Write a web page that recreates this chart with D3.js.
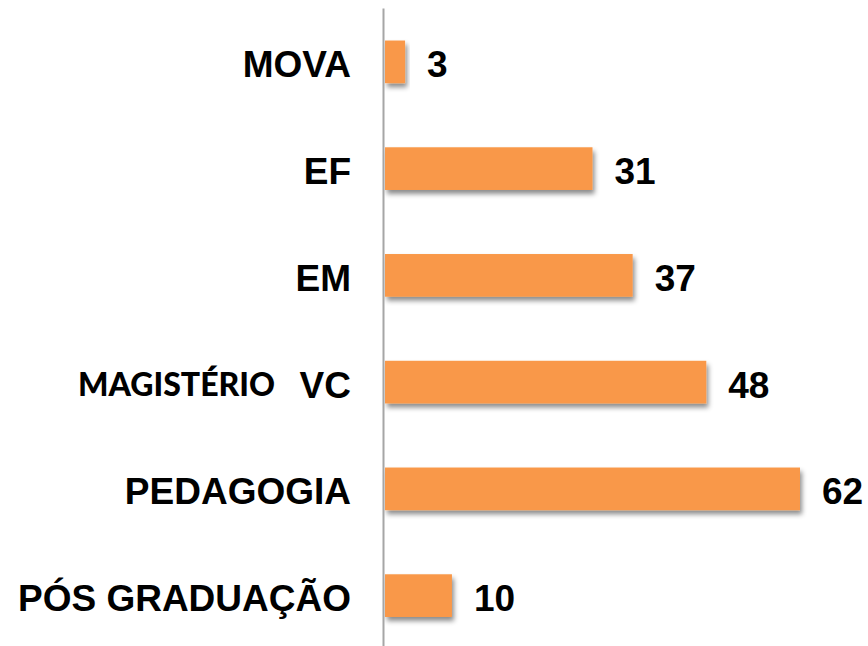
<!DOCTYPE html>
<html>
<head>
<meta charset="utf-8">
<script src="https://cdn.jsdelivr.net/npm/d3@7"></script>
<style>
  body { margin: 0; background: #fff; }
  svg { display: block; }
  .lbl { font-family: Arial, "Liberation Sans", Helvetica, sans-serif; font-weight: bold; font-size: 37px; }
</style>
</head>
<body>
<script>
// data
var categories = ["MOVA", "EF", "EM", "VC", "PEDAGOGIA", "PÓS GRADUAÇÃO"];
var values     = [3, 31, 37, 48, 62, 10];
var subLabel   = "MAGISTÉRIO";   // extra label sitting left of "VC"

var width = 868, height = 646;

var svg = d3.select("body").append("svg")
    .attr("width", width)
    .attr("height", height);

// drop shadow for the bars
var defs = svg.append("defs");
defs.append("filter")
    .attr("id", "shadow")
    .attr("x", "-10%").attr("y", "-20%")
    .attr("width", "130%").attr("height", "160%")
  .append("feDropShadow")
    .attr("dx", 2).attr("dy", 4)
    .attr("stdDeviation", 2.5)
    .attr("flood-color", "#000")
    .attr("flood-opacity", 0.45);

var y = d3.scaleBand()
    .domain(categories)
    .range([8.5, 649])
    .paddingInner(0.6)
    .paddingOuter(0.3);

var x = d3.scaleLinear()
    .domain([0, 62])
    .range([385, 800]);

// bars
svg.append("g").selectAll("rect")
    .data(categories)
  .enter().append("rect")
    .attr("x", x(0))
    .attr("y", function(d) { return y(d); })
    .attr("width", function(d, i) { return x(values[i]) - x(0); })
    .attr("height", y.bandwidth())
    .attr("fill", "#F99848")
    .attr("filter", "url(#shadow)");

// vertical axis line
svg.append("line")
    .attr("x1", x(0) - 1.5).attr("x2", x(0) - 1.5)
    .attr("y1", y.range()[0]).attr("y2", y.range()[1])
    .attr("stroke", "#a6a6a6")
    .attr("stroke-width", 2);

// category labels
svg.append("g").selectAll("text")
    .data(categories)
  .enter().append("text")
    .attr("class", "lbl")
    .attr("x", 351)
    .attr("y", function(d) { return y(d) + y.bandwidth() / 2; })
    .attr("dy", "0.42em")
    .attr("text-anchor", "end")
    .attr("fill", "#000")
    .text(function(d) { return d; });

// MAGISTÉRIO (different font, as in the original)
svg.append("text")
    .attr("x", 78)
    .attr("y", y("VC") + y.bandwidth() / 2)
    .attr("dy", "0.42em")
    .attr("textLength", 197)
    .attr("lengthAdjust", "spacingAndGlyphs")
    .style("font-family", "Lato, 'Open Sans', sans-serif")
    .style("font-weight", "900")
    .style("font-size", "32px")
    .attr("fill", "#000")
    .text(subLabel);

// value labels
svg.append("g").selectAll("text")
    .data(categories)
  .enter().append("text")
    .attr("class", "lbl")
    .attr("x", function(d, i) { return x(values[i]) + 22; })
    .attr("y", function(d) { return y(d) + y.bandwidth() / 2; })
    .attr("dy", "0.42em")
    .attr("fill", "#000")
    .text(function(d, i) { return values[i]; });
</script>
</body>
</html>
